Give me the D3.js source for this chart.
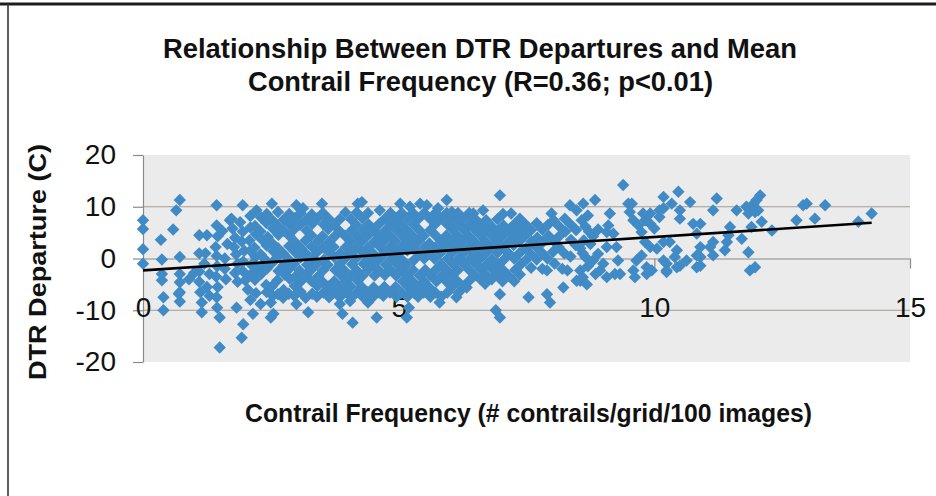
<!DOCTYPE html>
<html>
<head>
<meta charset="utf-8">
<script src="https://cdn.jsdelivr.net/npm/d3@7"></script>
<style>
  body { margin: 0; background: #fff; }
  svg { display: block; }
</style>
</head>
<body>
<div id="chart"></div>
<script>
// axis ticks and grid levels
const xTicks = [0, 5, 10, 15];
const yTicks = [20, 10, 0, -10, -20];
const gridLevels = [10, -10];

// trend line end points (frequency, departure)
const trendFreq = [0, 14.25];
const trendDep = [-2.3, 6.9];

// [contrail frequency, DTR departure]
const observations = [
  // x < 2.2
  [0.0,7.4],[0.0,5.7],[0.0,1.8],[0.0,-1.0],[0.35,3.6],[0.59,5.6],[0.72,11.3],[0.65,9.3],
  [0.37,-0.2],[0.37,-3.0],[0.37,-4.2],[0.4,-7.5],[0.4,-10.0],[0.72,0.3],[0.72,-3.0],[0.72,-4.6],
  [0.72,-6.5],[0.7,-6.8],[0.72,-8.3],[1.1,4.5],[1.25,4.5],[1.1,1.0],[1.1,-2.5],[1.1,-4.5],
  [1.12,-6.5],[1.15,-8.5],[1.15,-10.4],[1.44,10.3],[1.44,6.4],[1.46,4.3],[1.42,2.2],[1.44,0.5],
  [1.45,-1.5],[1.43,-3.5],[1.46,-5.5],[1.44,-7.5],[1.45,-9.5],[1.5,-11.4],[1.7,7.4],[1.73,7.7],
  [1.75,5.8],[1.8,4.0],[1.78,2.2],[1.82,0.8],[1.85,-1.0],[1.8,-2.8],[1.85,-4.5],[1.9,7.0],
  [1.95,5.2],[1.93,3.3],[1.98,1.5],[1.96,-0.6],[1.95,-2.4],[2.0,-4.2],[2.05,-6.0],[1.95,10.3],
  [1.83,-9.5],[1.96,-12.7],[1.93,-15.3],[1.5,-17.2],[1.6,-2.0],[1.62,-4.0],[1.3,-3.0],[1.25,-5.5],
  [1.3,-7.2],[2.1,8.2],[2.1,6.0],[2.08,3.5],[2.1,1.5],[2.12,-1.2],[2.1,-3.2],[2.1,-8.0],
  [0.9,-4.0],[1.0,-2.8],[1.22,1.0],[1.55,5.3],[1.6,0.0],[1.65,2.8],[1.2,-1.0],
  // dense band 2.2 - 6.5
  [2.22,9.3],[2.19,6.3],[2.21,4.7],[2.18,2.1],[2.2,0.3],[2.22,-2.5],[2.19,-4.1],[2.21,-6.7],[2.15,-10.7],
  [2.31,7.9],[2.3,5.2],[2.33,3.6],[2.3,0.8],[2.32,-1.4],[2.31,-3.0],[2.3,-8.8],
  [2.42,8.6],[2.41,6.9],[2.44,4.1],[2.42,2.5],[2.4,-0.3],[2.43,-1.9],[2.41,-5.1],[2.42,-6.5],
  [2.52,10.6],[2.53,7.4],[2.54,5.8],[2.52,3.0],[2.55,1.4],[2.53,-0.8],[2.52,-5.4],[2.54,-7.2],[2.5,-8.5],[2.5,-11.4],[2.55,-10.7],
  [2.64,9.0],[2.63,6.3],[2.65,4.6],[2.64,2.0],[2.62,0.2],[2.65,-2.4],[2.63,-4.2],[2.64,-6.9],
  [2.75,7.5],[2.76,5.3],[2.74,1.0],[2.75,-1.3],[2.77,-3.1],[2.75,-6.1],[2.74,-7.6],
  [2.86,8.6],[2.85,6.8],[2.87,4.3],[2.86,2.4],[2.84,-0.1],[2.86,-2.0],[2.87,-3.9],[2.85,-6.8],
  [3.0,10.3],[2.97,7.8],[2.96,5.7],[2.98,3.1],[2.97,1.3],[2.95,-1.0],[2.98,-3.5],[2.97,-5.3],[2.96,-7.2],[3.0,-8.8],
  [3.08,8.8],[3.07,6.5],[3.09,2.0],[3.08,0.2],[3.06,-2.3],[3.09,-4.4],[3.08,-6.4],
  [3.13,9.7],[3.19,7.5],[3.2,5.4],[3.18,3.5],[3.19,0.9],[3.21,-1.2],[3.19,-3.1],[3.18,-7.6],[3.23,-10.4],
  [3.3,8.5],[3.31,6.7],[3.29,4.5],[3.3,2.3],[3.32,-0.1],[3.3,-2.1],[3.29,-4.3],[3.31,-6.8],
  [3.41,7.8],[3.42,3.4],[3.4,1.2],[3.41,-1.0],[3.43,-3.4],[3.41,-5.3],[3.4,-7.4],
  [3.5,10.6],[3.52,8.8],[3.53,6.6],[3.51,4.3],[3.52,2.1],[3.54,-0.2],[3.52,-2.3],[3.51,-4.5],[3.53,-6.6],
  [3.63,7.7],[3.62,5.7],[3.64,3.2],[3.63,1.3],[3.61,-1.2],[3.63,-5.4],[3.64,-7.5],
  [3.74,6.5],[3.75,4.3],[3.73,2.2],[3.74,0.3],[3.76,-2.2],[3.74,-4.4],[3.73,-6.6],
  [3.85,7.6],[3.84,5.3],[3.86,1.0],[3.85,-1.0],[3.87,-3.2],[3.84,-5.6],[3.85,-7.5],[3.85,-8.8],[3.9,-10.7],
  [3.96,8.9],[3.95,4.4],[3.97,2.2],[3.96,0.1],[3.94,-2.3],[3.96,-4.5],[3.97,-6.5],
  [4.07,7.6],[4.08,5.4],[4.06,3.3],[4.07,1.1],[4.09,-1.1],[4.07,-3.3],[4.06,-5.4],[4.08,-7.5],[4.05,-8.2],[4.1,-12.4],
  [4.2,10.6],[4.18,8.9],[4.17,6.5],[4.19,4.3],[4.18,2.2],[4.16,0.0],[4.18,-2.3],[4.2,-4.3],[4.18,-6.6],
  [4.28,10.9],[4.29,7.8],[4.3,5.5],[4.28,3.3],[4.29,1.2],[4.31,-1.0],[4.29,-3.4],[4.28,-5.5],[4.3,-7.4],
  [4.4,8.8],[4.41,6.6],[4.39,4.4],[4.4,2.1],[4.42,0.1],[4.4,-2.2],[4.39,-6.5],[4.4,-8.5],
  [4.51,5.5],[4.52,3.2],[4.5,1.0],[4.51,-1.1],[4.53,-3.3],[4.51,-5.6],[4.5,-7.4],
  [4.63,9.3],[4.62,6.7],[4.61,4.5],[4.63,2.3],[4.62,-0.1],[4.6,-2.2],[4.62,-6.6],[4.7,-7.2],[4.57,-11.4],
  [4.73,7.7],[4.74,5.4],[4.72,3.4],[4.73,1.1],[4.75,-1.2],[4.73,-3.2],[4.72,-5.5],
  [4.84,8.8],[4.85,6.6],[4.83,4.4],[4.84,2.2],[4.86,0.0],[4.84,-2.2],[4.83,-6.6],
  [4.95,7.8],[4.96,5.5],[4.94,3.3],[4.95,1.1],[4.97,-1.1],[4.95,-3.3],[4.94,-5.5],[4.96,-7.4],
  [5.03,10.6],[5.06,8.8],[5.05,6.6],[5.07,4.4],[5.06,2.2],[5.04,0.0],[5.06,-2.2],[5.08,-4.4],[5.06,-6.6],
  [5.22,10.0],[5.17,7.7],[5.16,5.5],[5.18,3.3],[5.17,1.6],[5.15,-1.1],[5.17,-3.3],[5.19,-5.5],[5.17,-7.4],[5.2,-9.5],[5.16,-11.4],
  [5.28,8.8],[5.29,6.6],[5.27,4.4],[5.28,2.2],[5.3,-0.3],[5.28,-2.2],[5.27,-4.4],[5.29,-6.6],
  [5.42,10.6],[5.39,7.7],[5.4,5.5],[5.38,3.3],[5.39,1.1],[5.41,-3.3],[5.39,-5.5],[5.38,-7.4],
  [5.55,10.3],[5.5,8.8],[5.49,4.4],[5.51,2.2],[5.5,0.0],[5.52,-2.2],[5.5,-4.4],[5.49,-6.6],
  [5.61,7.7],[5.62,5.5],[5.6,2.9],[5.61,1.1],[5.63,-3.3],[5.6,-5.6],[5.62,-7.4],
  [5.77,9.7],[5.72,8.8],[5.71,6.6],[5.73,4.4],[5.72,2.2],[5.7,0.0],[5.72,-2.2],[5.74,-4.4],[5.72,-6.6],
  [5.83,7.7],[5.84,3.3],[5.82,1.1],[5.83,-1.1],[5.85,-3.3],[5.83,-7.4],[5.8,-8.5],
  [5.94,11.3],[5.94,8.8],[5.95,6.6],[5.93,4.4],[5.94,2.2],[5.96,0.0],[5.94,-2.2],[5.93,-4.4],[5.95,-6.6],
  [6.04,9.0],[6.05,7.7],[6.06,5.5],[6.04,3.3],[6.05,1.1],[6.07,-1.1],[6.05,-3.3],[6.04,-5.5],
  [6.16,8.8],[6.17,6.6],[6.15,4.4],[6.16,2.2],[6.18,0.0],[6.16,-2.2],[6.15,-4.4],[6.17,-6.6],[6.13,-7.5],
  [6.27,7.7],[6.28,5.5],[6.26,3.3],[6.27,1.1],[6.29,-1.1],[6.27,-5.5],
  [6.38,8.8],[6.39,6.6],[6.37,4.4],[6.38,2.2],[6.4,0.0],[6.38,-2.2],[6.37,-4.4],[6.33,-5.6],
  [6.46,8.7],[6.49,7.7],[6.5,5.5],[6.48,3.3],[6.49,1.1],[6.51,-1.1],[6.49,-3.3],
  // 6.6 - 8.5
  [6.6,6.6],[6.61,4.4],[6.59,2.2],[6.6,0.0],[6.62,-2.2],[6.6,-4.0],
  [6.65,9.3],[6.71,7.4],[6.72,5.5],[6.7,3.3],[6.71,1.1],[6.73,-1.1],[6.71,-3.3],[6.69,-4.9],
  [6.82,6.2],[6.83,4.4],[6.81,2.2],[6.82,-0.2],[6.84,-2.2],[6.82,-4.0],
  [6.98,12.2],[6.93,7.6],[6.94,5.3],[6.92,3.3],[6.93,1.1],[6.95,-1.1],[6.93,-3.3],[6.98,-6.9],[6.9,-10.0],[6.98,-11.4],
  [7.04,8.6],[7.05,6.4],[7.03,4.4],[7.04,2.2],[7.06,-0.2],[7.04,-2.2],[7.03,-4.4],
  [7.2,8.7],[7.15,5.5],[7.16,3.3],[7.14,1.1],[7.15,-3.3],
  [7.26,6.6],[7.27,4.4],[7.25,2.6],[7.26,0.0],[7.28,-2.2],[7.26,-4.4],
  [7.37,7.7],[7.38,5.5],[7.36,3.3],[7.37,1.1],[7.39,-1.1],[7.37,-3.1],
  [7.48,6.6],[7.47,4.4],[7.49,2.0],[7.48,-0.4],[7.54,-7.5],
  [7.59,5.5],[7.6,3.3],[7.58,0.9],[7.59,-1.8],
  [7.7,6.8],[7.71,4.0],[7.69,2.2],[7.7,-0.2],
  [7.81,5.6],[7.82,3.2],[7.8,1.1],[7.81,-2.0],
  [7.99,8.7],[7.92,6.5],[7.93,4.4],[7.91,0.0],[7.9,-2.3],[7.9,-6.9],[7.96,-8.5],
  [8.03,7.4],[8.04,3.3],[8.02,1.3],[8.05,-1.0],
  [8.14,6.2],[8.15,4.4],[8.13,2.2],[8.22,-5.6],
  [8.25,7.7],[8.26,5.2],[8.24,1.0],[8.2,-2.0],
  [8.35,10.3],[8.36,6.6],[8.37,3.6],[8.3,-2.3],[8.36,0.4],
  [8.48,9.3],[8.47,5.5],[8.46,2.6],[8.48,-4.3],
  // 8.5 - 11
  [8.61,10.6],[8.84,11.3],[9.39,14.2],[8.7,8.3],[8.58,7.4],[8.65,6.2],[8.72,5.2],[8.8,4.3],
  [8.9,5.6],[8.62,3.5],[9.13,8.7],[9.1,6.4],[9.07,5.1],[9.2,4.8],[9.49,10.6],[9.52,9.0],
  [9.59,7.4],[9.82,7.4],[9.92,8.7],[10.0,5.8],[10.1,9.3],[10.18,11.9],[10.47,12.9],[10.34,10.6],
  [10.7,10.9],[10.5,9.3],[10.5,7.7],[10.76,6.7],[10.18,3.2],[9.82,3.2],[9.92,2.2],[10.05,1.9],
  [10.3,3.2],[10.44,1.6],[10.4,0.3],[10.24,-1.0],[10.63,-0.4],[10.83,0.6],[10.83,4.8],[8.55,2.0],
  [8.65,0.3],[8.8,-0.4],[8.55,-2.3],[8.55,-4.3],[8.9,0.9],[9.0,-1.0],[9.07,2.2],[9.26,2.2],
  [9.29,-0.4],[8.94,-2.3],[9.07,-3.6],[9.23,-3.0],[9.33,-3.0],[9.59,-2.3],[9.65,-0.4],[9.75,0.6],
  [9.85,-1.7],[9.62,-3.6],[9.95,-2.3],[10.18,-0.4],[10.24,-2.3],[10.44,-1.7],[9.69,6.4],[9.92,6.7],
  [10.1,8.0],[9.75,5.1],[9.56,10.6],[9.78,8.7],[10.18,9.7],[10.83,-1.7],[10.5,-1.4],[10.24,-2.6],
  [9.85,-3.0],[8.6,1.0],[8.7,-1.5],[8.75,2.8],[8.85,-3.0],[8.6,-3.6],[8.68,-5.0],
  // x > 10.9
  [11.22,11.6],[11.15,9.3],[11.61,9.3],[10.9,6.7],[11.48,6.1],[11.45,4.5],[11.71,3.8],[11.42,3.2],
  [11.15,3.2],[11.09,2.2],[11.38,1.6],[11.15,0.6],[10.9,2.2],[10.9,0.3],[10.9,-1.4],[11.84,1.2],
  [11.8,10.0],[11.87,9.3],[11.94,10.6],[12.0,11.3],[12.07,12.2],[11.84,8.7],[11.97,9.0],[12.03,9.3],
  [12.1,7.1],[11.9,6.1],[12.3,5.4],[11.87,-2.3],[11.97,-1.7],[12.78,7.4],[12.91,10.3],[12.98,10.6],
  [13.14,7.7],[13.34,10.3],[13.99,7.1],[14.25,8.7]
];

const width = 936, height = 496;
const plot = { left: 143, right: 910, top: 155, bottom: 362 };

const svg = d3.select('#chart').append('svg')
  .attr('width', width).attr('height', height);

// outer frame (top and left edges only are visible)
svg.append('line').attr('x1', 0).attr('x2', width).attr('y1', 4).attr('y2', 4)
  .attr('stroke', '#1e1e1e').attr('stroke-width', 3);
svg.append('line').attr('x1', 8).attr('x2', 8).attr('y1', 4).attr('y2', height)
  .attr('stroke', '#2a2a2a').attr('stroke-width', 1.5);

const x = d3.scaleLinear([0, 15], [plot.left, plot.right]);
const y = d3.scaleLinear([-20, 20], [plot.bottom, plot.top]);

// plot area background
svg.append('rect')
  .attr('x', plot.left).attr('y', plot.top)
  .attr('width', plot.right - plot.left).attr('height', plot.bottom - plot.top)
  .attr('fill', '#ebebeb');

// gridlines
svg.append('g').selectAll('line')
  .data(gridLevels)
  .join('line')
  .attr('x1', plot.left).attr('x2', plot.right)
  .attr('y1', d => y(d)).attr('y2', d => y(d))
  .attr('stroke', '#a39d94').attr('stroke-width', 1.2);

// axes (plain hyphen for negatives, like the original)
const tickFont = '"Liberation Sans", Arial, sans-serif';
const plainNum = d => String(d);

const axisY = svg.append('g')
  .attr('transform', `translate(${plot.left},0)`)
  .call(d3.axisLeft(y).tickValues(yTicks).tickFormat(plainNum)
    .tickSize(10).tickSizeOuter(0).tickPadding(17));

const axisX = svg.append('g')
  .attr('transform', `translate(0,${y(0)})`)
  .call(d3.axisBottom(x).tickValues(xTicks).tickFormat(plainNum)
    .tickSize(10).tickSizeOuter(0).tickPadding(29));

[axisY, axisX].forEach(g => {
  g.select('.domain').attr('stroke', '#8a8a8a').attr('stroke-width', 1.2);
  g.selectAll('.tick line').attr('stroke', '#8a8a8a').attr('stroke-width', 1.2);
  g.selectAll('.tick text')
    .attr('fill', '#111')
    .style('font-family', tickFont)
    .style('font-size', '28px');
});

// points (Excel style diamonds)
const diamond = 'M0,-6.2L6.2,0L0,6.2L-6.2,0Z';
svg.append('g').selectAll('path')
  .data(observations)
  .join('path')
  .attr('d', diamond)
  .attr('transform', d => `translate(${x(d[0])},${y(d[1])})`)
  .attr('fill', '#408bc5');

// trend line
svg.append('line')
  .attr('x1', x(trendFreq[0])).attr('y1', y(trendDep[0]))
  .attr('x2', x(trendFreq[1])).attr('y2', y(trendDep[1]))
  .attr('stroke', '#000').attr('stroke-width', 2.6);

// titles
const labelFont = '"Liberation Sans Narrow", "Arial Narrow", "Liberation Sans", Arial, sans-serif';

const title = svg.append('g')
  .style('font-family', labelFont)
  .style('font-weight', 'bold')
  .style('font-size', '27px')
  .attr('fill', '#111');

title.append('text')
  .attr('x', 163).attr('y', 58)
  .attr('textLength', 634).attr('lengthAdjust', 'spacingAndGlyphs')
  .text('Relationship Between DTR Departures and Mean');

title.append('text')
  .attr('x', 248).attr('y', 91)
  .attr('textLength', 465).attr('lengthAdjust', 'spacingAndGlyphs')
  .text('Contrail Frequency (R=0.36; p<0.01)');

svg.append('text')
  .attr('x', 245).attr('y', 422)
  .attr('textLength', 567).attr('lengthAdjust', 'spacingAndGlyphs')
  .style('font-family', labelFont)
  .style('font-weight', 'bold')
  .style('font-size', '26px')
  .attr('fill', '#111')
  .text('Contrail Frequency (# contrails/grid/100 images)');

svg.append('text')
  .attr('transform', 'translate(46,380) rotate(-90)')
  .attr('textLength', 236).attr('lengthAdjust', 'spacingAndGlyphs')
  .style('font-family', '"Liberation Sans", Arial, sans-serif')
  .style('font-weight', 'bold')
  .style('font-size', '24px')
  .attr('fill', '#111')
  .text('DTR Departure (C)');
</script>
</body>
</html>
